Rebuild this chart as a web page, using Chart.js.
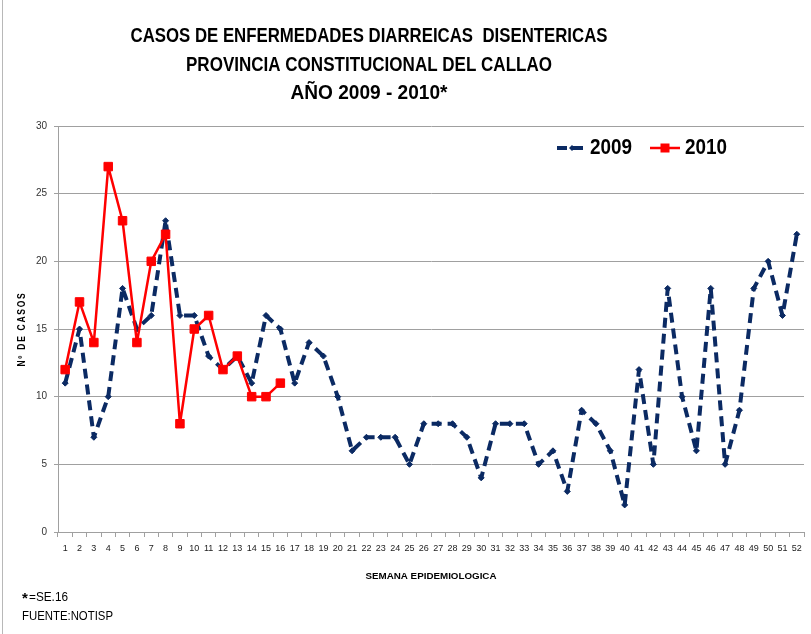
<!DOCTYPE html>
<html><head><meta charset="utf-8">
<script src="https://cdn.jsdelivr.net/npm/chart.js@4/dist/chart.umd.min.js"></script>
<style>html,body{margin:0;padding:0;background:#fff;}canvas{display:block;}</style>
</head><body>
<canvas id="c" width="811" height="634"></canvas>
<script>
const weeks = ['1','2','3','4','5','6','7','8','9','10','11','12','13','14','15','16','17','18','19','20','21','22','23','24','25','26','27','28','29','30','31','32','33','34','35','36','37','38','39','40','41','42','43','44','45','46','47','48','49','50','51','52'];
const cases2009 = [11,15,7,10,18,15,16,23,16,16,13,12,13,11,16,15,11,14,13,10,6,7,7,7,5,8,8,8,7,4,8,8,8,5,6,3,9,8,6,2,12,5,18,10,6,18,5,9,18,20,16,22];
const cases2010 = [12,17,14,27,23,14,20,22,8,15,16,12,13,10,10,11];
const seriesNames = ['2009','2010'];
const yMin = 0, yMax = 30, yStep = 5;
const titleLines = ['CASOS DE ENFERMEDADES DIARREICAS  DISENTERICAS','PROVINCIA CONSTITUCIONAL DEL CALLAO','AÑO 2009 - 2010*'];
const yTitle = 'Nº DE CASOS';
const xTitle = 'SEMANA EPIDEMIOLOGICA';
const footnotes = ['*', '=SE.16', 'FUENTE:NOTISP'];

const NARROW = '"Liberation Sans Narrow","Arial Narrow","Liberation Sans",Arial,sans-serif';
const SANS = '"Liberation Sans",Arial,sans-serif';
const NAVY = '#0b2a63';
const RED = '#ff0000';
const GRID = '#a0a0a0';

function drawText(ctx, text, x, y, font, color, targetW, align) {
  ctx.save();
  ctx.font = font; ctx.fillStyle = color; ctx.textBaseline = 'middle'; ctx.textAlign = align || 'left';
  const w = ctx.measureText(text).width;
  const sx = targetW ? targetW / w : 1;
  ctx.translate(x, y); ctx.scale(sx, 1);
  ctx.fillText(text, 0, 0);
  ctx.restore();
}

const decor = {
  id: 'decor',
  afterDraw(chart) {
    const ctx = chart.ctx;
    const area = chart.chartArea;
    ctx.save(); ctx.strokeStyle = '#b8b8b8'; ctx.lineWidth = 1;
    ctx.beginPath(); ctx.moveTo(2.5, 0); ctx.lineTo(2.5, 634); ctx.stroke(); ctx.restore();
    const tW = [477, 366, 157];
    const tY = [36, 65, 93];
    titleLines.forEach((t, i) => drawText(ctx, t, 369, tY[i], 'bold 21px ' + NARROW, '#000', tW[i], 'center'));
    ctx.save();
    ctx.translate(22, (area.top + area.bottom) / 2);
    ctx.rotate(-Math.PI / 2);
    ctx.letterSpacing = '2px';
    drawText(ctx, yTitle, 0, 0, 'bold 10px ' + SANS, '#000', 75, 'center');
    ctx.restore();
    drawText(ctx, xTitle, (area.left + area.right) / 2, 577, 'bold 9px ' + NARROW, '#000', 131, 'center');
    drawText(ctx, footnotes[0], 22, 599, 'bold 15px ' + SANS, '#000', 0, 'left');
    drawText(ctx, footnotes[1], 29, 597, '13px ' + NARROW, '#000', 39, 'left');
    drawText(ctx, footnotes[2], 22, 616, '13px ' + NARROW, '#000', 91, 'left');
    const ds = chart.data.datasets;
    const ly = 148;
    ctx.save();
    ctx.strokeStyle = ds[0].borderColor; ctx.lineWidth = ds[0].borderWidth;
    ctx.setLineDash(ds[0].borderDash);
    ctx.beginPath(); ctx.moveTo(557, ly); ctx.lineTo(586, ly); ctx.stroke();
    ctx.restore();
    ctx.save(); ctx.fillStyle = ds[0].pointBackgroundColor;
    ctx.beginPath(); ctx.moveTo(572, ly - 3); ctx.lineTo(575, ly); ctx.lineTo(572, ly + 3); ctx.lineTo(569, ly); ctx.closePath(); ctx.fill(); ctx.restore();
    drawText(ctx, ds[0].label, 590, ly, 'bold 22px ' + NARROW, '#000', 42, 'left');
    ctx.save();
    ctx.strokeStyle = ds[1].borderColor; ctx.lineWidth = ds[1].borderWidth;
    ctx.beginPath(); ctx.moveTo(650, ly); ctx.lineTo(680, ly); ctx.stroke();
    ctx.fillStyle = ds[1].pointBackgroundColor;
    ctx.fillRect(665 - 4.5, ly - 4.5, 9, 9);
    ctx.restore();
    drawText(ctx, ds[1].label, 685, ly, 'bold 22px ' + NARROW, '#000', 42, 'left');
  }
};

new Chart(document.getElementById('c'), {
  type: 'line',
  data: {
    labels: weeks,
    datasets: [
      {
        label: seriesNames[0], data: cases2009, order: 1,
        borderColor: NAVY, borderWidth: 4, borderDash: [10, 6], borderJoinStyle: 'round',
        pointStyle: 'rectRot', pointRadius: 3, pointBackgroundColor: NAVY, pointBorderColor: NAVY, pointBorderWidth: 1,
        tension: 0, fill: false
      },
      {
        label: seriesNames[1], data: cases2010, order: 0,
        borderColor: RED, borderWidth: 2.5, borderJoinStyle: 'round',
        pointStyle: 'rect', pointRadius: 6, pointBackgroundColor: RED, pointBorderColor: RED, pointBorderWidth: 1,
        tension: 0, fill: false
      }
    ]
  },
  options: {
    responsive: false, devicePixelRatio: 1, animation: false,
    layout: { padding: { top: 126, right: 3, bottom: 0, left: 0 } },
    plugins: { legend: { display: false }, title: { display: false }, tooltip: { enabled: false } },
    scales: {
      x: {
        offset: true,
        grid: { display: true, offset: true, drawOnChartArea: false, drawTicks: true, tickLength: 5, color: GRID },
        border: { color: GRID },
        ticks: { autoSkip: false, maxRotation: 0, minRotation: 0, padding: 6, color: '#222', font: { family: SANS, size: 9 } },
        afterFit(s) { s.height = 102; }
      },
      y: {
        min: yMin, max: yMax,
        grid: { color: GRID, drawTicks: true, tickLength: 4 },
        border: { color: GRID },
        ticks: { stepSize: yStep, padding: 7, color: '#333', font: { family: SANS, size: 10 } },
        afterFit(s) { s.width = 58; }
      }
    }
  },
  plugins: [decor]
});
</script>
</body></html>
